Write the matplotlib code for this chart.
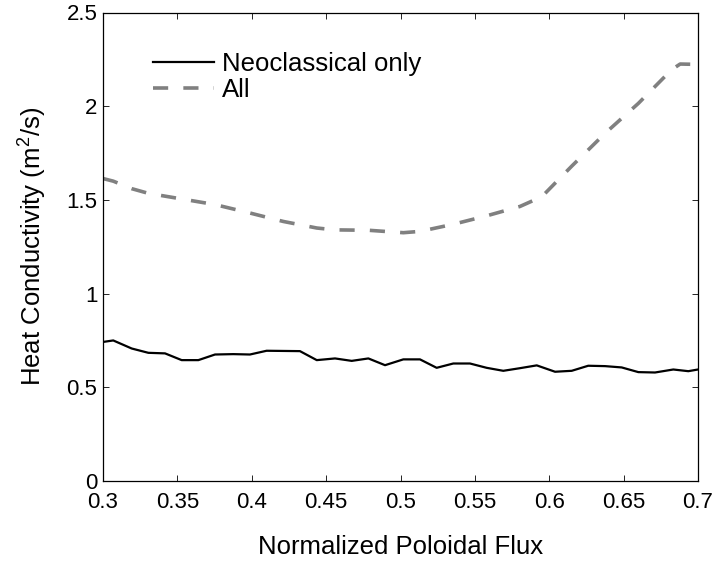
import matplotlib
matplotlib.use("Agg")
import matplotlib.pyplot as plt

plt.rcParams['font.family'] = ['Liberation Sans', 'DejaVu Sans']
plt.rcParams['mathtext.fontset'] = 'custom'
plt.rcParams['mathtext.rm'] = 'Liberation Sans'

# Neoclassical only
neo_x = [0.3000, 0.3069, 0.3193, 0.3305, 0.3417, 0.3529, 0.3641, 0.3753, 0.3876,
         0.3988, 0.4100, 0.4212, 0.4324, 0.4437, 0.4560, 0.4672, 0.4784, 0.4896,
         0.5019, 0.5131, 0.5243, 0.5355, 0.5467, 0.5579, 0.5691, 0.5803, 0.5916,
         0.6039, 0.6151, 0.6262, 0.6375, 0.6487, 0.6599, 0.6711, 0.6834, 0.6935, 0.7000]
neo_y = [0.742, 0.750, 0.707, 0.684, 0.681, 0.645, 0.645, 0.675, 0.677,
         0.675, 0.695, 0.694, 0.693, 0.645, 0.654, 0.641, 0.654, 0.618,
         0.649, 0.649, 0.604, 0.627, 0.627, 0.604, 0.588, 0.602, 0.617,
         0.583, 0.588, 0.615, 0.613, 0.606, 0.581, 0.579, 0.595, 0.586, 0.595]

# All
all_x = [0.3000, 0.3069, 0.3193, 0.3305, 0.3529, 0.3753, 0.3988, 0.4212, 0.4437,
         0.4560, 0.4784, 0.5019, 0.5131, 0.5355, 0.5579, 0.5803, 0.5916, 0.5960,
         0.6151, 0.6375, 0.6599, 0.6823, 0.6880, 0.7000]
all_y = [1.614, 1.600, 1.560, 1.535, 1.505, 1.475, 1.430, 1.385, 1.350,
         1.340, 1.338, 1.325, 1.332, 1.370, 1.415, 1.465, 1.505, 1.525,
         1.680, 1.855, 2.015, 2.195, 2.225, 2.223]

xticks = [0.3, 0.35, 0.4, 0.45, 0.5, 0.55, 0.6, 0.65, 0.7]
xticklabels = ['0.3', '0.35', '0.4', '0.45', '0.5', '0.55', '0.6', '0.65', '0.7']
yticks = [0, 0.5, 1, 1.5, 2, 2.5]
yticklabels = ['0', '0.5', '1', '1.5', '2', '2.5']

fig = plt.figure(figsize=(7.22, 5.65), dpi=100)
ax = fig.add_axes([103/722, 1 - 481/565, (698-103)/722, (481-12.5)/565])

ax.plot(neo_x, neo_y, color='black', lw=1.6, label='Neoclassical only')
ln, = ax.plot(all_x, all_y, color='#808080', lw=2.6, label='All')
ln.set_dashes((4.2, 4.2))

ax.set_xlim(0.3, 0.7)
ax.set_ylim(0, 2.5)
ax.set_xticks(xticks)
ax.set_xticklabels(xticklabels)
ax.set_yticks(yticks)
ax.set_yticklabels(yticklabels)
ax.tick_params(direction='in', top=True, right=True, length=4, width=0.6,
               labelsize=16, colors='black')
ax.tick_params(axis='x', pad=8)
ax.tick_params(axis='y', pad=4)
for s in ax.spines.values():
    s.set_linewidth(0.9)

ax.set_xlabel('Normalized Poloidal Flux', fontsize=18.5, labelpad=16)
ax.set_ylabel('Heat Conductivity (m$^{2}$/s)', fontsize=18.5, labelpad=13)

leg = ax.legend(loc='upper left', bbox_to_anchor=(0.066, 0.938), frameon=False,
                fontsize=18.5, handlelength=2.4, handletextpad=0.32,
                labelspacing=0.1, borderaxespad=0)

fig.savefig('out.png', dpi=100)
